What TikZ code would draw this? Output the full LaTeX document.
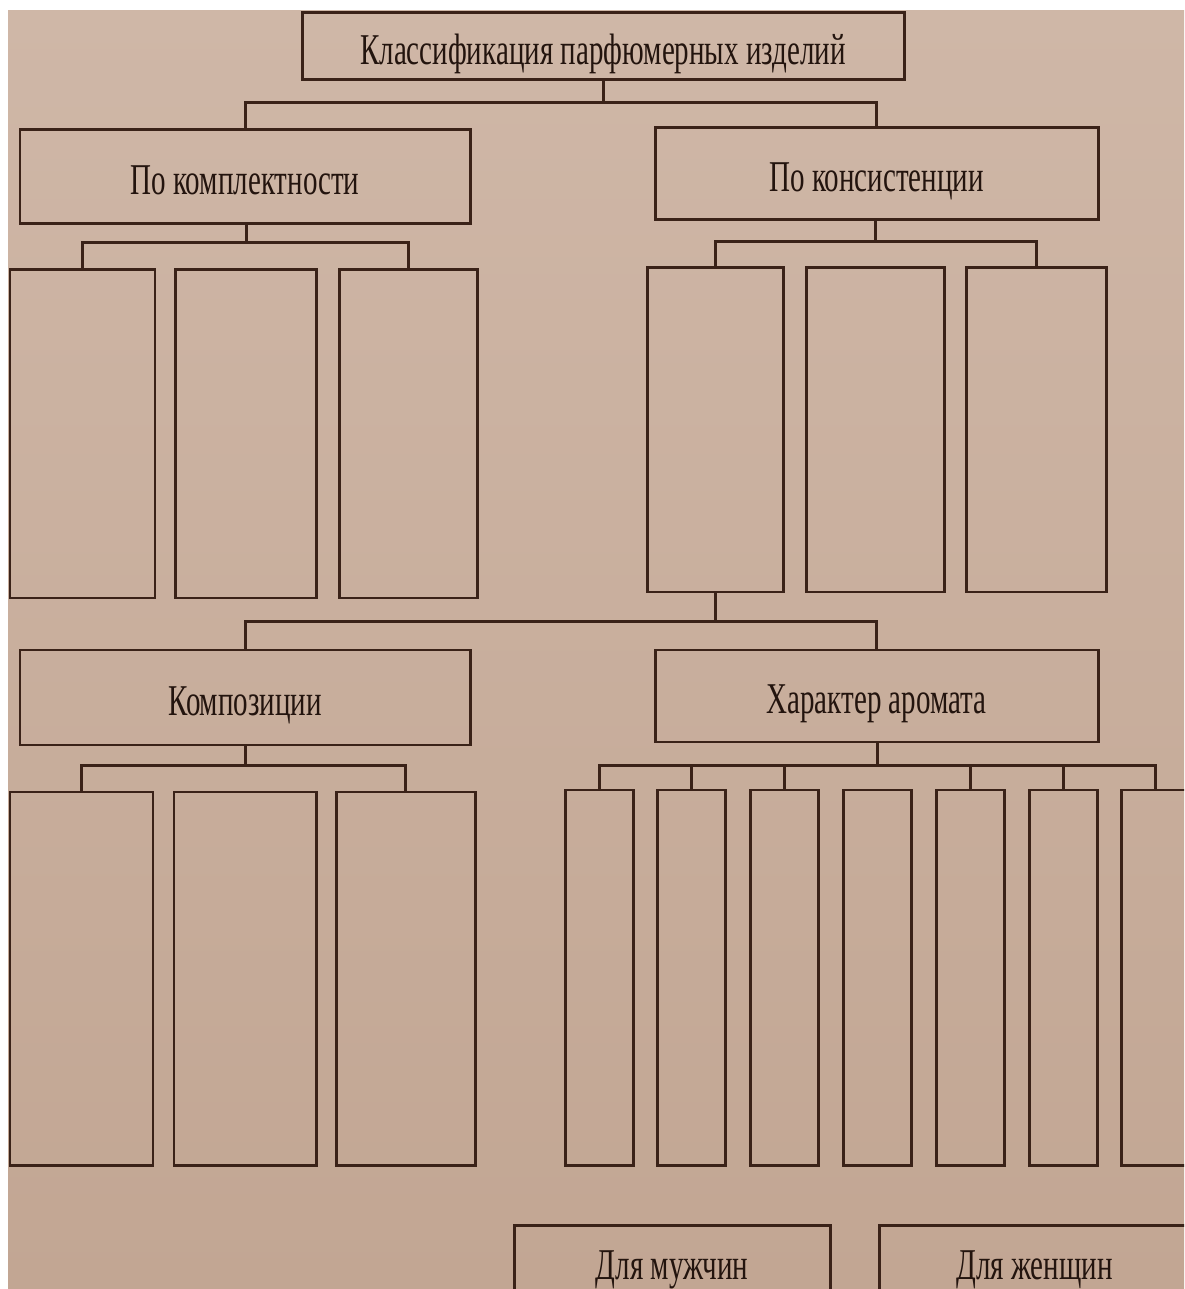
\documentclass[tikz,border=0pt]{standalone}
\usepackage{fontspec}
\setmainfont[FakeStretch=0.66]{Liberation Serif}
\definecolor{paperlight}{RGB}{207,183,167}
\definecolor{paperdark}{RGB}{194,166,147}
\definecolor{ink}{RGB}{58,34,24}
\begin{document}
\begin{tikzpicture}[
    x=0.01cm, y=-0.01cm,
    box/.style 2 args={draw=ink, line width=0.85pt, text=ink!60!black, inner sep=0pt,
      minimum width=#1*0.01cm, minimum height=#2*0.01cm,
      text height=10pt, text depth=0pt,
      font=\fontsize{12.5}{14}\selectfont},
    link/.style={draw=ink, line width=0.85pt}
  ]
  \clip (0,0) rectangle (1184,1289);
  \fill[white] (0,0) rectangle (1184,1289);
  \shade[top color=paperlight, bottom color=paperdark] (8,11) rectangle (1184,1289);

  % upper level
  \node[box={602}{67}] (top) at (603,46.5) {Классификация парфюмерных изделий};
  \node[box={450}{94}] (kompl) at (245,177) {По комплектности};
  \node[box={443}{92}] (konsist) at (876.5,174) {По консистенции};
  \node[box={145}{328}] (kp1) at (82.5,434) {};
  \node[box={141}{328}] (kp2) at (246,434) {};
  \node[box={138}{328}] (kp3) at (408,434) {};
  \node[box={136}{324}] (ks1) at (715,430) {};
  \node[box={138}{324}] (ks2) at (875,430) {};
  \node[box={140}{324}] (ks3) at (1036,430) {};

  % lower level
  \node[box={450}{95}] (komp) at (245,697.5) {Композиции};
  \node[box={443}{92}] (aromat) at (876.5,696) {Характер аромата};
  \node[box={143}{373}] (kc1) at (81.5,978.5) {};
  \node[box={142}{373}] (kc2) at (245,978.5) {};
  \node[box={139}{373}] (kc3) at (405.5,978.5) {};
  \foreach \i [evaluate=\i as \cx using 599+(\i-1)*92.8] in {1,...,7}
    \node[box={68}{375}] (ar\i) at (\cx,977.5) {};

  \node[box={316}{74}] (men) at (672,1262) {Для мужчин};
  \node[box={311}{74}] (women) at (1034.5,1262) {Для женщин};

  % connectors
  \coordinate (b0) at (603,103);
  \draw[link] (top) -- (b0);
  \draw[link] (kompl.north) |- (b0) -| (konsist.north);

  \path (kp2.north) ++(0,-26) coordinate (b1);
  \draw[link] (kompl.south -| b1) -- (b1);
  \draw[link] (kp1.north) |- (b1) -| (kp3.north);

  \path (ks2.north) ++(0,-25) coordinate (b2);
  \draw[link] (konsist.south -| b2) -- (b2);
  \draw[link] (ks1.north) |- (b2) -| (ks3.north);

  \path (ks1.south) ++(0,28) coordinate (b3);
  \draw[link] (ks1) -- (b3);
  \draw[link] (komp.north) |- (b3) -| (aromat.north);

  \path (kc2.north) ++(0,-25) coordinate (b4);
  \draw[link] (komp.south -| b4) -- (b4);
  \draw[link] (kc1.north) |- (b4) -| (kc3.north);

  \path (ar4.north) ++(0,-23) coordinate (b5);
  \draw[link] (aromat.south -| b5) -- (b5);
  \draw[link] (ar1.north) |- (b5) -| (ar7.north);
  \foreach \i in {2,3,5,6}
    \draw[link] (ar\i.north) -- (ar\i.north |- b5);
\end{tikzpicture}
\end{document}
